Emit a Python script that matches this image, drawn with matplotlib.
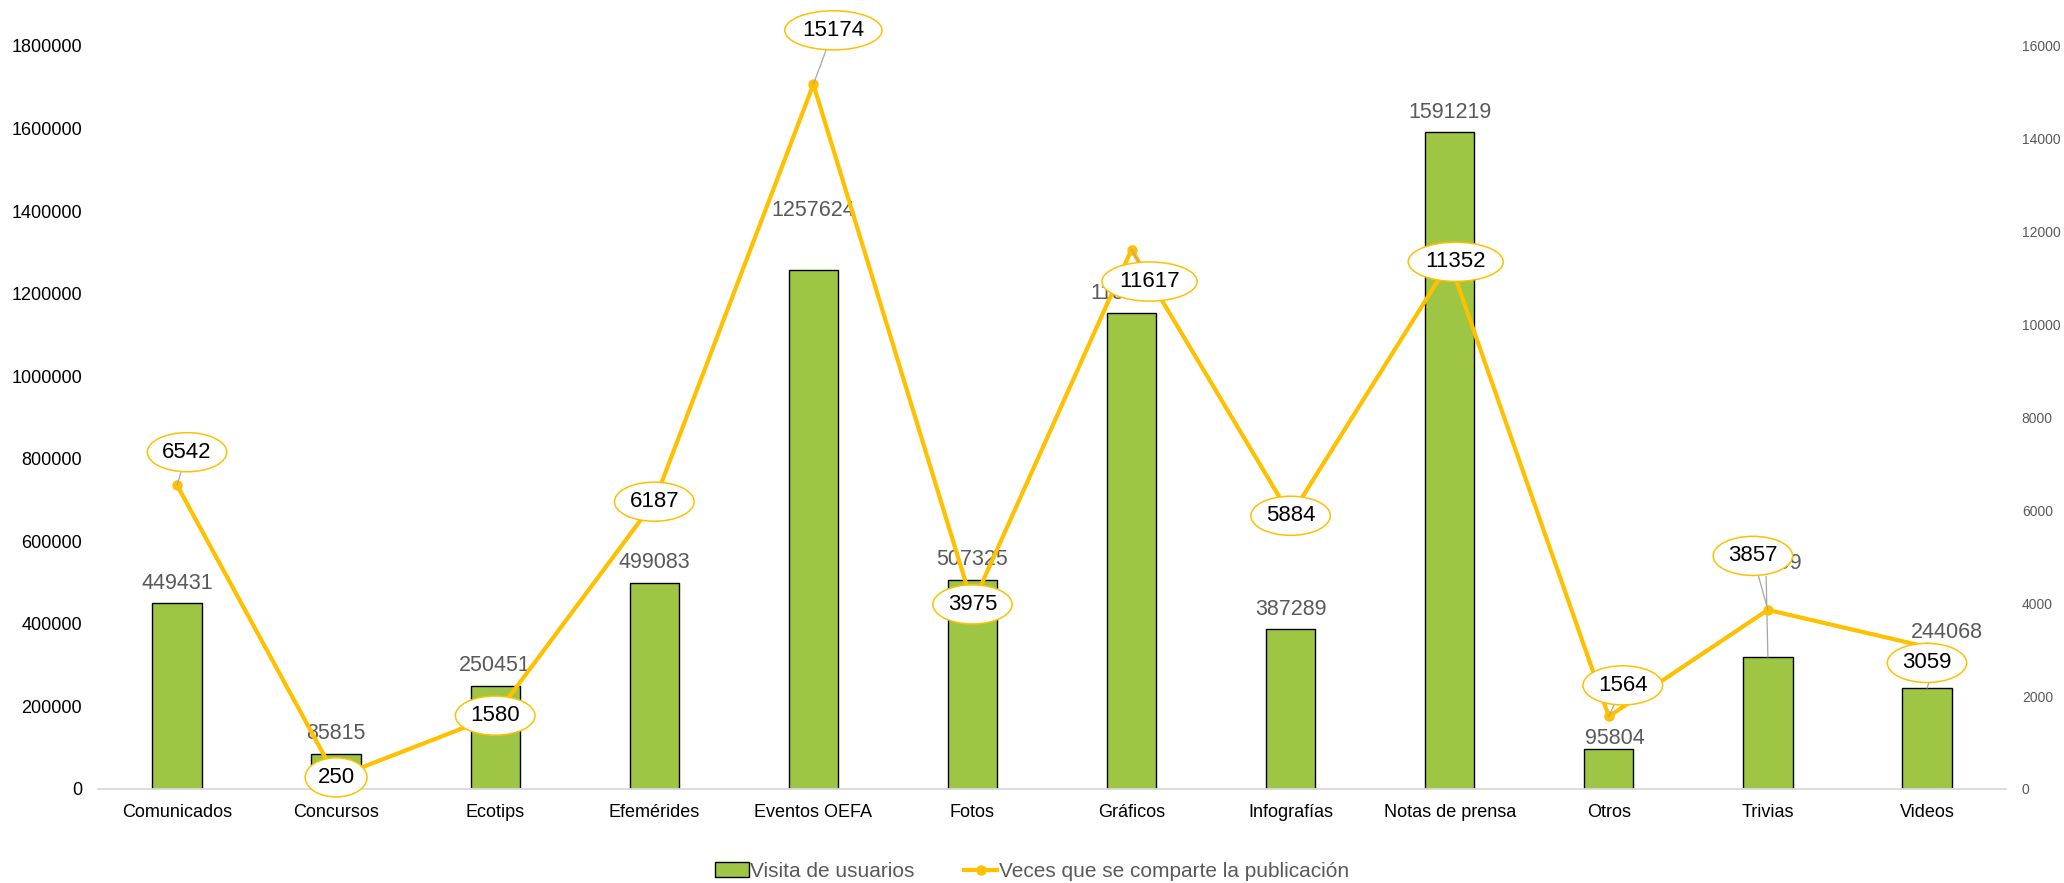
import matplotlib.pyplot as plt
import numpy as np


plt.rcParams['font.family'] = ['Liberation Sans', 'DejaVu Sans']

categories = ['Comunicados', 'Concursos', 'Ecotips', 'Efemérides', 'Eventos OEFA', 'Fotos',
              'Gráficos', 'Infografías', 'Notas de prensa', 'Otros', 'Trivias', 'Videos']
visits = [449431, 85815, 250451, 499083, 1257624, 507325,
          1152543, 387289, 1591219, 95804, 319609, 244068]
shares = [6542, 250, 1580, 6187, 15174, 3975, 11617, 5884, 11352, 1564, 3857, 3059]

left_ticks = np.arange(0, 1800001, 200000)
right_ticks = np.arange(0, 16001, 2000)

# label placement (pixels, dy up), as moved by hand in the original
bar_label_offsets = [(0, 20), (0, 20), (0, 20), (0, 20), (0, 59), (0, 20),
                     (0, 20), (0, 20), (0, 20), (6, 11), (-2, 94), (20, 56)]
bar_label_leader = [False] * 10 + [True, True]
share_offsets = [(10, 33), (0, 0), (0, 0), (0, 0), (20, 54), (0, 0),
                 (18, -32), (0, 0), (6, 0), (14, 31), (-15, 54), (0, -16)]
share_leader = [True, False, False, False, True, False, True, False, False, True, True, False]

GREEN = '#9FC544'
GOLD = '#FFC000'
GREY_TXT = '#595959'
LEADER = '#A6A6A6'


def main():
    fig = plt.figure(figsize=(20.64, 8.83), dpi=100)
    ax = fig.add_axes([0.04724, 0.10646, 0.9249, 0.84145])
    x = np.arange(len(categories))

    bars = ax.bar(x, visits, width=0.31, color=GREEN, edgecolor='black', linewidth=1.0,
                  label='Visita de usuarios', zorder=2)
    for i, v in enumerate(visits):
        dx, dy = bar_label_offsets[i]
        arrow = None
        if bar_label_leader[i]:
            arrow = dict(arrowstyle='-', color=LEADER, lw=0.9, shrinkA=0, shrinkB=0)
        ax.annotate(str(v), xy=(x[i], v), xytext=(dx, dy), textcoords='offset pixels',
                    ha='center', va='center', fontsize=15.5, color=GREY_TXT,
                    arrowprops=arrow, zorder=3)

    ax.set_xlim(-0.5, len(categories) - 0.5)
    ax.set_ylim(0, 1800000)
    ax.set_yticks(left_ticks)
    ax.set_yticklabels([str(t) for t in left_ticks])
    ax.set_xticks(x)
    ax.set_xticklabels(categories)
    ax.tick_params(axis='y', length=0, pad=11, labelsize=13, labelcolor='black')
    ax.tick_params(axis='x', length=0, pad=11, labelsize=13, labelcolor='black')
    for s in ['top', 'right', 'left']:
        ax.spines[s].set_visible(False)
    ax.spines['bottom'].set_color('#D9D9D9')
    ax.spines['bottom'].set_linewidth(1.3)

    ax2 = ax.twinx()
    line, = ax2.plot(x, shares, color=GOLD, lw=3.0, marker='o', markersize=6.5,
                     label='Veces que se comparte la publicación', zorder=4)
    ax2.set_ylim(0, 16000)
    ax2.set_yticks(right_ticks)
    ax2.set_yticklabels([str(t) for t in right_ticks])
    ax2.tick_params(axis='y', length=0, pad=11, labelsize=10, labelcolor=GREY_TXT)
    for s in ['top', 'right', 'left', 'bottom']:
        ax2.spines[s].set_visible(False)

    for i, v in enumerate(shares):
        dx, dy = share_offsets[i]
        arrow = None
        if share_leader[i]:
            arrow = dict(arrowstyle='-', color=LEADER, lw=0.9, shrinkA=0, shrinkB=0)
        ax2.annotate(str(v), xy=(x[i], v), xytext=(dx, dy), textcoords='offset pixels',
                     ha='center', va='center', fontsize=16, color='black',
                     bbox=dict(boxstyle='ellipse,pad=0.15', fc='white', ec=GOLD, lw=1.1),
                     arrowprops=arrow, zorder=5, annotation_clip=False)

    fig.legend(handles=[bars, line], loc='center', bbox_to_anchor=(0.5, 0.013),
               ncol=2, frameon=False, handlelength=1.6, handletextpad=0.05,
               columnspacing=2.4, fontsize=15, labelcolor=GREY_TXT)

    fig.savefig('out.png', dpi=100)


if __name__ == '__main__':
    main()
